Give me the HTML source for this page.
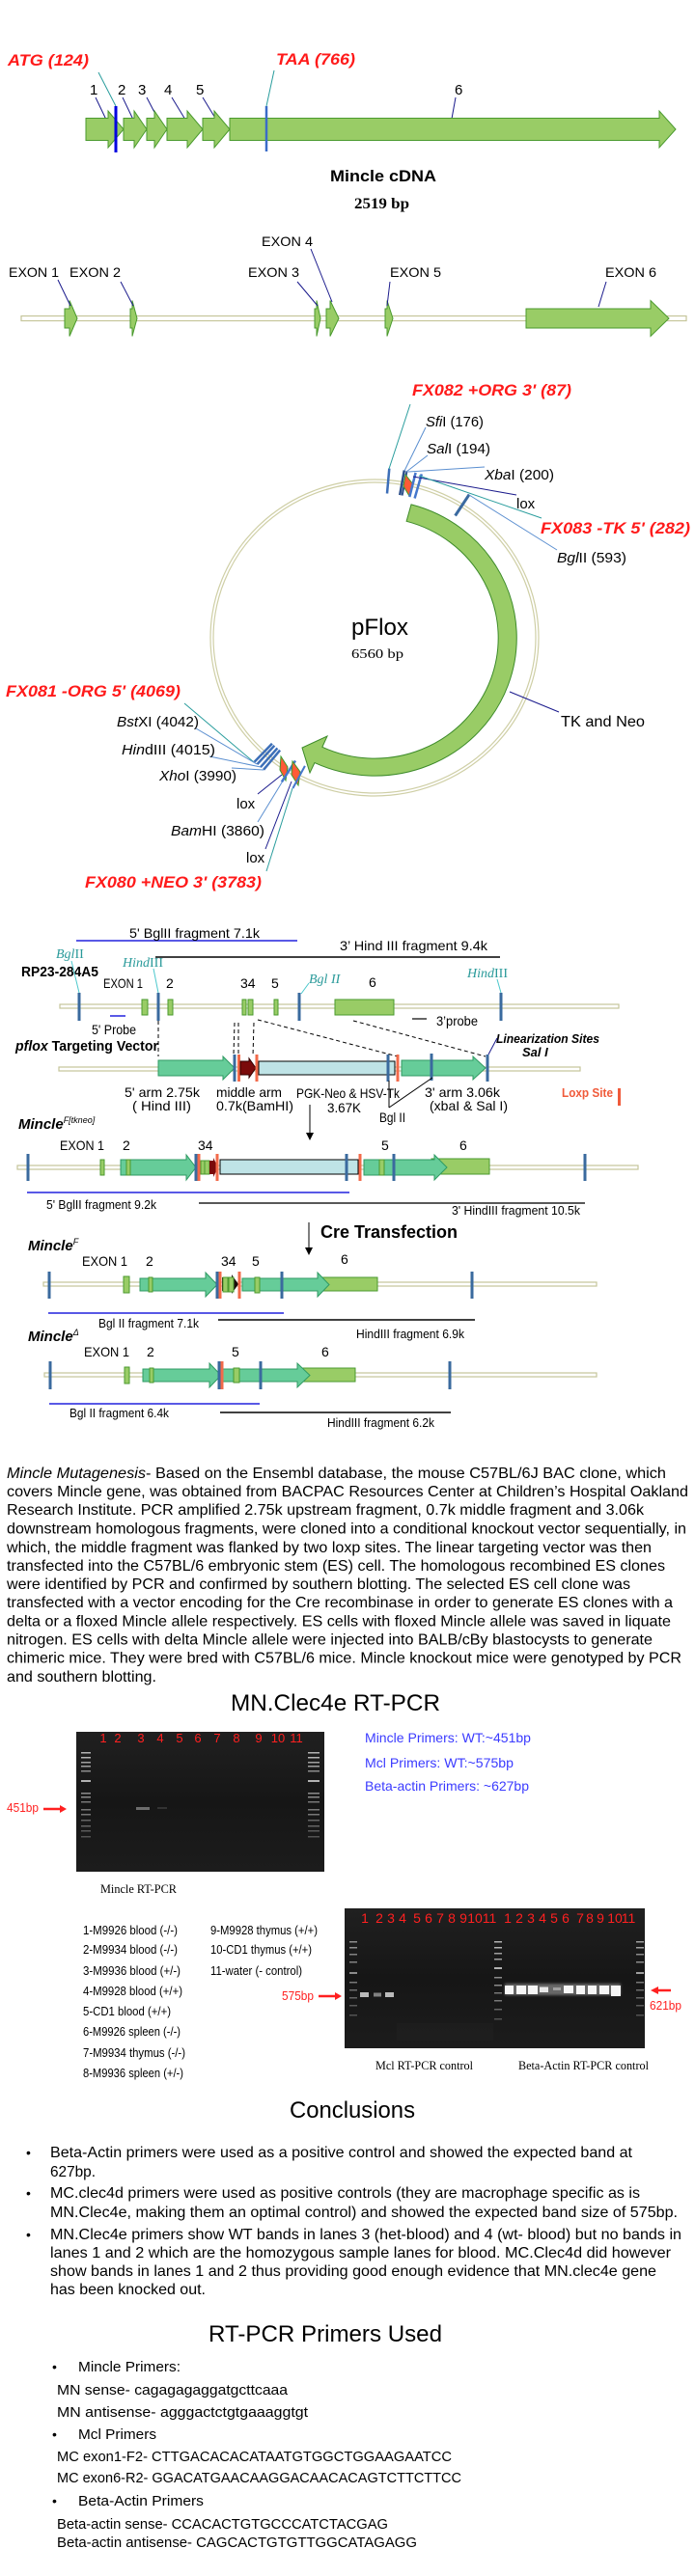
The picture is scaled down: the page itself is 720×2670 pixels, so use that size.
<!DOCTYPE html>
<html><head><meta charset="utf-8">
<style>
html,body{margin:0;padding:0;background:#fff;}
svg{display:block;}
text{font-family:"Liberation Sans",Arial,sans-serif;}
.sf{font-family:"Liberation Serif","Times New Roman",serif;}
.red{fill:#ff1a1a;font-weight:bold;font-style:italic;font-size:17px;}
.ga{fill:#99cc66;stroke:#4a9a2e;stroke-width:1;}
.ta{fill:#66cc99;stroke:#2f9a63;stroke-width:1;}
.bt{stroke:#3a6a9e;stroke-width:3;}
.rt{stroke:#f26a4a;stroke-width:3;}
.ln{fill:#fff;stroke:#c5c59a;stroke-width:1.2;}
.nv{stroke:#1a1a8c;stroke-width:1;}
.tl{stroke:#2a9d9d;stroke-width:1;}
.lb{stroke:#5b8fd0;stroke-width:1;}
.teal{fill:#2a9a9a;font-family:"Liberation Serif",serif;font-size:14px;}
</style></head><body>
<svg width="720" height="2670" viewBox="0 0 720 2670" xmlns="http://www.w3.org/2000/svg">
<rect width="720" height="2670" fill="#fff"/>

<!-- ===== Mincle cDNA ===== -->
<text x="8" y="68" class="red" textLength="84" lengthAdjust="spacingAndGlyphs">ATG (124)</text>
<text x="286" y="67" class="red" textLength="82" lengthAdjust="spacingAndGlyphs">TAA (766)</text>
<line x1="102" y1="75" x2="120" y2="110" class="tl"/>
<line x1="284" y1="73" x2="276" y2="110" class="tl"/>
<g font-size="15">
<text x="93" y="98">1</text><text x="122" y="98">2</text><text x="143" y="98">3</text>
<text x="170" y="98">4</text><text x="203" y="98">5</text><text x="471" y="98">6</text>
</g>
<line x1="99" y1="101" x2="110" y2="124" class="nv"/>
<line x1="127" y1="101" x2="138" y2="124" class="nv"/>
<line x1="152" y1="101" x2="164" y2="124" class="nv"/>
<line x1="178" y1="101" x2="192" y2="124" class="nv"/>
<line x1="210" y1="101" x2="224" y2="124" class="nv"/>
<line x1="472" y1="101" x2="468" y2="123" class="nv"/>
<polygon class="ga" points="89,122.5 112,122.5 112,115 128,134 112,153 112,145.5 89,145.5"/>
<polygon class="ga" points="128,122.5 139,122.5 139,115 152,134 139,153 139,145.5 128,145.5"/>
<polygon class="ga" points="152,122.5 160,122.5 160,115 173,134 160,153 160,145.5 152,145.5"/>
<polygon class="ga" points="173,122.5 194,122.5 194,115 210,134 194,153 194,145.5 173,145.5"/>
<polygon class="ga" points="210,122.5 222,122.5 222,115 238,134 222,153 222,145.5 210,145.5"/>
<polygon class="ga" points="238,122.5 683,122.5 683,115 700,134 683,153 683,145.5 238,145.5"/>
<line x1="120" y1="110" x2="120" y2="158" stroke="#0000e0" stroke-width="3"/>
<line x1="276" y1="110" x2="276" y2="157" stroke="#3a6cc8" stroke-width="2.5"/>
<text x="342" y="188" font-size="17" font-weight="bold" textLength="110" lengthAdjust="spacingAndGlyphs">Mincle cDNA</text>
<text x="367" y="216" class="sf" font-size="16" font-weight="bold" textLength="57" lengthAdjust="spacingAndGlyphs">2519 bp</text>

<!-- ===== Exons ===== -->
<rect x="22" y="327.5" width="689" height="5" class="ln"/>
<polygon class="ga" points="67,320 72,320 72,311.5 80,330 72,348.5 72,340 67,340"/>
<polygon class="ga" points="135,320 137,320 137,311.5 142,330 137,348.5 137,340 135,340"/>
<polygon class="ga" points="326,320 328,320 328,311.5 332,330 328,348.5 328,340 326,340"/>
<polygon class="ga" points="338,320 342,320 342,311.5 351,330 342,348.5 342,340 338,340"/>
<polygon class="ga" points="399,320 401,320 401,311.5 407,330 401,348.5 401,340 399,340"/>
<polygon class="ga" points="545,320 674,320 674,311.5 693,330 674,348.5 674,340 545,340"/>
<g font-size="14">
<text x="9" y="287" textLength="52" lengthAdjust="spacingAndGlyphs">EXON 1</text>
<text x="72" y="287" textLength="53" lengthAdjust="spacingAndGlyphs">EXON 2</text>
<text x="257" y="287" textLength="53" lengthAdjust="spacingAndGlyphs">EXON 3</text>
<text x="271" y="255" textLength="53" lengthAdjust="spacingAndGlyphs">EXON 4</text>
<text x="404" y="287" textLength="53" lengthAdjust="spacingAndGlyphs">EXON 5</text>
<text x="627" y="287" textLength="53" lengthAdjust="spacingAndGlyphs">EXON 6</text>
</g>
<line x1="60" y1="290" x2="73" y2="317" class="nv"/>
<line x1="125" y1="292" x2="138" y2="317" class="nv"/>
<line x1="308" y1="292" x2="329" y2="317" class="nv"/>
<line x1="322" y1="258" x2="344" y2="313" class="nv"/>
<line x1="404" y1="292" x2="401" y2="317" class="nv"/>
<line x1="628" y1="292" x2="620" y2="318" class="nv"/>

<!-- ===== pFlox ===== -->
<ellipse cx="388" cy="661" rx="170" ry="164" fill="none" stroke="#cfcfa6" stroke-width="1.2"/>
<ellipse cx="388" cy="661" rx="167" ry="161" fill="none" stroke="#cfcfa6" stroke-width="1.2"/>
<path d="M426,522.9 A147,143 0 1 1 325.9,790.6 L321,801 L313,775 L339,763 L333.9,774.3 A128,125 0 1 0 421.1,540.3 Z" fill="#99cc66" stroke="#3d8b2a" stroke-width="1"/>
<text x="364" y="658" font-size="24" textLength="59" lengthAdjust="spacingAndGlyphs">pFlox</text>
<text x="364" y="682" class="sf" font-size="14" textLength="54" lengthAdjust="spacingAndGlyphs">6560 bp</text>

<!-- top features -->
<line x1="403.3" y1="485.6" x2="401" y2="511.5" stroke="#3d6fb8" stroke-width="2.5"/>
<line x1="418.8" y1="487.5" x2="414.2" y2="513.1" stroke="#2c4f8a" stroke-width="2.5"/>
<line x1="421.6" y1="488" x2="416.6" y2="513.6" stroke="#2c4f8a" stroke-width="2"/>
<polygon points="420,492 428,502 424,514 418,504" fill="#ff5a36" stroke="#3a9a2a" stroke-width="1"/>
<line x1="430.6" y1="489.9" x2="424.3" y2="515.1" stroke="#4477cc" stroke-width="2.5"/>
<line x1="436.8" y1="491.4" x2="429.6" y2="516.5" stroke="#4477cc" stroke-width="2.5"/>
<line x1="486.1" y1="512.6" x2="471.6" y2="534.5" stroke="#3a6aa0" stroke-width="3"/>
<line x1="425" y1="419" x2="403" y2="486" class="tl"/>
<line x1="441" y1="443" x2="419" y2="488" class="lb"/>
<line x1="443" y1="472" x2="421" y2="489" class="lb"/>
<line x1="502" y1="484" x2="423" y2="489" class="lb"/>
<line x1="535" y1="513" x2="428" y2="494" class="nv"/>
<line x1="561" y1="537" x2="434" y2="493" class="tl"/>
<line x1="577" y1="570" x2="486" y2="513" class="lb"/>
<text x="427" y="410" class="red" textLength="165" lengthAdjust="spacingAndGlyphs">FX082 +ORG 3' (87)</text>
<g class="sf" font-size="15">
<text x="441" y="442" textLength="60" lengthAdjust="spacingAndGlyphs"><tspan font-style="italic">Sfi</tspan>I (176)</text>
<text x="442" y="470" textLength="66" lengthAdjust="spacingAndGlyphs"><tspan font-style="italic">Sal</tspan>I (194)</text>
<text x="502" y="497" textLength="72" lengthAdjust="spacingAndGlyphs"><tspan font-style="italic">Xba</tspan>I (200)</text>
<text x="577" y="583" textLength="72" lengthAdjust="spacingAndGlyphs"><tspan font-style="italic">Bgl</tspan>II (593)</text>
</g>
<text x="535" y="527" font-size="15">lox</text>
<text x="560" y="553" class="red" textLength="155" lengthAdjust="spacingAndGlyphs">FX083 -TK 5' (282)</text>

<!-- bottom features -->
<line x1="263.5" y1="789.7" x2="281.9" y2="770.7" stroke="#3d6fb8" stroke-width="2.5"/>
<line x1="266.4" y1="792.2" x2="284.3" y2="772.8" stroke="#3d6fb8" stroke-width="2.5"/>
<line x1="269.9" y1="795.2" x2="287.4" y2="775.4" stroke="#3d6fb8" stroke-width="2.5"/>
<line x1="273.1" y1="797.8" x2="290.1" y2="777.6" stroke="#3d6fb8" stroke-width="2.5"/>
<polygon points="291,784 298,795 296,809 290,798" fill="#ff5a36" stroke="#3a9a2a" stroke-width="1"/>
<line x1="291.8" y1="810.6" x2="306" y2="788.5" stroke="#4477cc" stroke-width="2.5"/>
<polygon points="303,789 311,800 309,814 302,803" fill="#ff5a36" stroke="#3a9a2a" stroke-width="1"/>
<line x1="303.4" y1="817" x2="315.9" y2="793.9" stroke="#4477cc" stroke-width="2"/>
<line x1="191" y1="729" x2="263" y2="790" class="tl"/>
<line x1="203" y1="755" x2="266" y2="792" class="lb"/>
<line x1="217" y1="784" x2="270" y2="795" class="lb"/>
<line x1="240" y1="796" x2="273" y2="798" class="lb"/>
<line x1="267" y1="823" x2="292" y2="803" class="nv"/>
<line x1="267" y1="852" x2="292" y2="811" class="lb"/>
<line x1="275" y1="880" x2="302" y2="810" class="nv"/>
<line x1="276" y1="903" x2="303" y2="817" class="tl"/>
<line x1="579" y1="738" x2="528" y2="717" class="nv"/>
<text x="6" y="722" class="red" textLength="181" lengthAdjust="spacingAndGlyphs">FX081 -ORG 5' (4069)</text>
<g class="sf" font-size="15">
<text x="121" y="753" textLength="85" lengthAdjust="spacingAndGlyphs"><tspan font-style="italic">Bst</tspan>XI (4042)</text>
<text x="126" y="782" textLength="97" lengthAdjust="spacingAndGlyphs"><tspan font-style="italic">Hin</tspan>dIII (4015)</text>
<text x="165" y="809" textLength="80" lengthAdjust="spacingAndGlyphs"><tspan font-style="italic">Xho</tspan>I (3990)</text>
<text x="177" y="866" textLength="97" lengthAdjust="spacingAndGlyphs"><tspan font-style="italic">Bam</tspan>HI (3860)</text>
</g>
<text x="245" y="838" font-size="15">lox</text>
<text x="255" y="894" font-size="15">lox</text>
<text x="88" y="920" class="red" textLength="183" lengthAdjust="spacingAndGlyphs">FX080 +NEO 3' (3783)</text>
<text x="581" y="753" font-size="16" textLength="87" lengthAdjust="spacingAndGlyphs">TK and Neo</text>

<!-- ===== Targeting ===== -->
<line x1="79" y1="975" x2="308" y2="975" stroke="#2222dd" stroke-width="1.5"/>
<text x="134" y="972" font-size="14" textLength="135" lengthAdjust="spacingAndGlyphs">5' BglII fragment 7.1k</text>
<text x="352" y="985" font-size="14" textLength="153" lengthAdjust="spacingAndGlyphs">3’ Hind III fragment 9.4k</text>
<line x1="161" y1="992" x2="518" y2="992" stroke="#000" stroke-width="1.5"/>
<text x="22" y="1012" font-size="15" font-weight="bold" textLength="80" lengthAdjust="spacingAndGlyphs">RP23-284A5</text>
<text x="58" y="993" class="teal"><tspan font-style="italic">Bgl</tspan>II</text>
<text x="127" y="1002" class="teal"><tspan font-style="italic">Hind</tspan>III</text>
<text x="320" y="1019" class="teal" font-style="italic">Bgl II</text>
<text x="484" y="1013" class="teal"><tspan font-style="italic">Hind</tspan>III</text>
<line x1="74" y1="996" x2="82" y2="1029" stroke="#4cc8cc" stroke-width="1"/>
<line x1="159" y1="1004" x2="164" y2="1029" stroke="#4cc8cc" stroke-width="1"/>
<line x1="320" y1="1019" x2="312" y2="1030" stroke="#4cc8cc" stroke-width="1"/>
<line x1="515" y1="1015" x2="519" y2="1029" stroke="#4cc8cc" stroke-width="1"/>
<g font-size="14">
<text x="107" y="1024" textLength="41" lengthAdjust="spacingAndGlyphs">EXON 1</text>
<text x="172" y="1024">2</text><text x="249" y="1024">34</text><text x="281" y="1024">5</text><text x="382" y="1023">6</text>
</g>
<rect x="62" y="1041" width="579" height="4" class="ln"/>
<line x1="82" y1="1029" x2="82" y2="1058" class="bt"/>
<line x1="164" y1="1029" x2="164" y2="1058" class="bt"/>
<line x1="310" y1="1029" x2="310" y2="1058" class="bt"/>
<line x1="519" y1="1029" x2="519" y2="1058" class="bt"/>
<rect x="147" y="1036" width="6" height="16" class="ga"/>
<rect x="174" y="1036" width="5" height="16" class="ga"/>
<rect x="251" y="1036" width="4" height="16" class="ga"/>
<rect x="257" y="1036" width="5" height="16" class="ga"/>
<rect x="284" y="1036" width="4" height="16" class="ga"/>
<rect x="347" y="1036" width="61" height="16" class="ga"/>
<line x1="114" y1="1053" x2="130" y2="1053" stroke="#2222dd" stroke-width="1.5"/>
<text x="95" y="1072" font-size="14" textLength="46" lengthAdjust="spacingAndGlyphs">5' Probe</text>
<line x1="427" y1="1056" x2="442" y2="1056" stroke="#000" stroke-width="1.2"/>
<text x="452" y="1063" font-size="14" textLength="43" lengthAdjust="spacingAndGlyphs">3’probe</text>
<text x="16" y="1089" font-size="15" font-weight="bold" textLength="148" lengthAdjust="spacingAndGlyphs"><tspan font-style="italic">pflox</tspan> Targeting Vector</text>
<g stroke="#000" stroke-width="1" stroke-dasharray="4,3">
<line x1="164" y1="1058" x2="164" y2="1095"/>
<line x1="243" y1="1060" x2="242" y2="1093"/>
<line x1="247" y1="1060" x2="247" y2="1093"/>
<line x1="263" y1="1060" x2="262" y2="1095"/>
<line x1="267" y1="1057" x2="412" y2="1095"/>
<line x1="366" y1="1058" x2="503" y2="1095"/>
</g>
<text x="514" y="1081" font-size="13" font-weight="bold" font-style="italic" textLength="107" lengthAdjust="spacingAndGlyphs">Linearization Sites</text>
<text x="541" y="1095" font-size="13" font-weight="bold" font-style="italic">Sal I</text>
<line x1="515" y1="1076" x2="506" y2="1093" class="nv"/>
<!-- vector row -->
<rect x="61" y="1106" width="540" height="4" class="ln"/>
<polygon class="ta" points="164,1099 231,1099 231,1095 243,1107 231,1119 231,1115 164,1115"/>
<line x1="243" y1="1093" x2="243" y2="1121" class="bt"/>
<line x1="247.5" y1="1093" x2="247.5" y2="1121" class="rt"/>
<polygon points="249,1100 258,1100 258,1097 265,1107 258,1117 258,1114 249,1114" fill="#7a0a0a" stroke="#300" stroke-width="1"/>
<line x1="266" y1="1093" x2="266" y2="1121" class="rt"/>
<rect x="268" y="1100" width="141" height="14" fill="#bfe3e6" stroke="#000" stroke-width="1"/>
<line x1="402" y1="1093" x2="402" y2="1121" class="bt"/>
<line x1="412" y1="1093" x2="412" y2="1121" class="rt"/>
<polygon class="ta" points="416,1099 490,1099 490,1095 503,1107 490,1119 490,1115 416,1115"/>
<line x1="447" y1="1092" x2="447" y2="1120" class="bt"/>
<line x1="505" y1="1093" x2="505" y2="1121" class="bt"/>
<g font-size="14">
<text x="129" y="1137" textLength="78" lengthAdjust="spacingAndGlyphs">5' arm 2.75k</text>
<text x="137" y="1151" textLength="61" lengthAdjust="spacingAndGlyphs">( Hind III)</text>
<text x="224" y="1137" textLength="68" lengthAdjust="spacingAndGlyphs">middle arm</text>
<text x="224" y="1151" textLength="80" lengthAdjust="spacingAndGlyphs">0.7k(BamHI)</text>
<text x="307" y="1138" textLength="107" lengthAdjust="spacingAndGlyphs">PGK-Neo &amp; HSV-Tk</text>
<text x="339" y="1153" textLength="35" lengthAdjust="spacingAndGlyphs">3.67K</text>
<text x="393" y="1163" textLength="27" lengthAdjust="spacingAndGlyphs">Bgl II</text>
<text x="440" y="1137" textLength="78" lengthAdjust="spacingAndGlyphs">3' arm 3.06k</text>
<text x="445" y="1151" textLength="81" lengthAdjust="spacingAndGlyphs">(xbaI &amp; Sal I)</text>
</g>
<text x="582" y="1137" font-size="13" font-weight="bold" fill="#f05a3a" textLength="53" lengthAdjust="spacingAndGlyphs">Loxp Site</text>
<rect x="640" y="1128" width="3" height="18" fill="#f05a3a"/>
<line x1="403" y1="1120" x2="403" y2="1148" stroke="#000" stroke-width="1"/>
<line x1="403" y1="1148" x2="448" y2="1117" stroke="#000" stroke-width="1"/>
<line x1="321" y1="1145" x2="321" y2="1176" stroke="#000" stroke-width="1"/>
<polygon points="317,1174 325,1174 321,1182" fill="#000"/>
<text x="19" y="1170" font-size="15" font-weight="bold" font-style="italic">Mincle<tspan font-size="9" font-weight="normal" dy="-6">F[tkneo]</tspan></text>

<!-- row 3 Mincle F[tkneo] -->
<g font-size="14">
<text x="62" y="1192" textLength="46" lengthAdjust="spacingAndGlyphs">EXON 1</text>
<text x="127" y="1192">2</text><text x="205" y="1192">34</text><text x="395" y="1192">5</text><text x="476" y="1192">6</text>
</g>
<rect x="18" y="1208" width="643" height="4" class="ln"/>
<rect x="104" y="1202" width="4" height="16" class="ga"/>
<polygon class="ta" points="125,1202 193,1202 193,1197 203,1210 193,1223 193,1218 125,1218"/>
<rect x="131" y="1202" width="4" height="16" class="ga"/>
<rect x="208" y="1203" width="4" height="14" class="ga"/>
<rect x="212" y="1203" width="5" height="14" class="ga"/>
<polygon points="217,1203 221,1203 221,1200 226,1210 221,1220 221,1217 217,1217" fill="#7a0a0a"/>
<rect x="228" y="1202" width="143" height="15" fill="#bfe3e6" stroke="#000" stroke-width="1"/>
<rect x="447" y="1201" width="60" height="16" class="ga"/>
<polygon class="ta" points="377,1202 450,1202 450,1197 463,1210 450,1223 450,1218 377,1218"/>
<rect x="393" y="1202" width="5" height="16" class="ga"/>
<line x1="29" y1="1196" x2="29" y2="1224" class="bt"/>
<line x1="203" y1="1196" x2="203" y2="1224" class="bt"/>
<line x1="206" y1="1196" x2="206" y2="1224" class="rt"/>
<line x1="225" y1="1196" x2="225" y2="1224" class="rt"/>
<line x1="359" y1="1196" x2="359" y2="1224" class="bt"/>
<line x1="373" y1="1196" x2="373" y2="1224" class="rt"/>
<line x1="408" y1="1196" x2="408" y2="1224" class="bt"/>
<line x1="606" y1="1196" x2="606" y2="1224" class="bt"/>
<line x1="28" y1="1236" x2="362" y2="1236" stroke="#2222dd" stroke-width="1.5"/>
<text x="48" y="1253" font-size="13" textLength="114" lengthAdjust="spacingAndGlyphs">5' BglII fragment 9.2k</text>
<line x1="206" y1="1247" x2="606" y2="1247" stroke="#222" stroke-width="1.5"/>
<text x="468" y="1259" font-size="13" textLength="133" lengthAdjust="spacingAndGlyphs">3' HindIII fragment 10.5k</text>
<line x1="320" y1="1267" x2="320" y2="1294" stroke="#000" stroke-width="1"/>
<polygon points="316,1293 324,1293 320,1301" fill="#000"/>
<text x="332" y="1283" font-size="18" font-weight="bold" textLength="142" lengthAdjust="spacingAndGlyphs">Cre Transfection</text>
<text x="29" y="1296" font-size="15" font-weight="bold" font-style="italic">Mincle<tspan font-size="9" font-weight="normal" dy="-6">F</tspan></text>

<!-- row 4 Mincle F -->
<g font-size="14">
<text x="85" y="1312" textLength="47" lengthAdjust="spacingAndGlyphs">EXON 1</text>
<text x="151" y="1312">2</text><text x="229" y="1312">34</text><text x="261" y="1312">5</text><text x="353" y="1310">6</text>
</g>
<rect x="45" y="1329" width="573" height="4" class="ln"/>
<rect x="128" y="1323" width="6" height="17" class="ga"/>
<polygon class="ta" points="145,1325 213,1325 213,1319 225,1331.5 213,1344 213,1338 145,1338"/>
<rect x="154" y="1324" width="4" height="15" class="ga"/>
<polygon points="230,1324 240,1324 240,1321 247,1331 240,1341 240,1338 230,1338" fill="#1a0a0a"/>
<rect x="231" y="1324" width="5" height="15" class="ga"/>
<rect x="237" y="1324" width="5" height="15" class="ga"/>
<rect x="329" y="1324" width="62" height="14" class="ga"/>
<polygon class="ta" points="251,1325 329,1325 329,1319 341,1331.5 329,1344 329,1338 251,1338"/>
<rect x="264" y="1324" width="5" height="16" class="ga"/>
<line x1="51" y1="1318" x2="51" y2="1346" class="bt"/>
<line x1="225" y1="1318" x2="225" y2="1346" class="bt"/>
<line x1="228" y1="1318" x2="228" y2="1346" class="rt"/>
<line x1="248" y1="1318" x2="248" y2="1346" class="rt"/>
<line x1="292" y1="1318" x2="292" y2="1346" class="bt"/>
<line x1="489" y1="1318" x2="489" y2="1346" class="bt"/>
<line x1="50" y1="1361" x2="294" y2="1361" stroke="#2222dd" stroke-width="1.5"/>
<text x="102" y="1376" font-size="13" textLength="104" lengthAdjust="spacingAndGlyphs">Bgl II fragment 7.1k</text>
<line x1="226" y1="1368" x2="492" y2="1368" stroke="#000" stroke-width="1.5"/>
<text x="369" y="1387" font-size="13" textLength="112" lengthAdjust="spacingAndGlyphs">HindIII fragment 6.9k</text>
<text x="29" y="1390" font-size="15" font-weight="bold" font-style="italic">Mincle<tspan font-size="9" font-weight="normal" dy="-6">Δ</tspan></text>

<!-- row 5 Mincle delta -->
<g font-size="14">
<text x="87" y="1406" textLength="47" lengthAdjust="spacingAndGlyphs">EXON 1</text>
<text x="152" y="1406">2</text><text x="240" y="1406">5</text><text x="333" y="1406">6</text>
</g>
<rect x="46" y="1423" width="572" height="4" class="ln"/>
<rect x="129" y="1417" width="5" height="17" class="ga"/>
<polygon class="ta" points="148,1419 217,1419 217,1413 229,1425.5 217,1438 217,1432 148,1432"/>
<rect x="155" y="1418" width="4" height="15" class="ga"/>
<rect x="308" y="1418" width="60" height="14" class="ga"/>
<polygon class="ta" points="231,1419 308,1419 308,1413 321,1425.5 308,1438 308,1432 231,1432"/>
<rect x="242" y="1418" width="6" height="15" class="ga"/>
<line x1="52" y1="1411" x2="52" y2="1440" class="bt"/>
<line x1="227" y1="1411" x2="227" y2="1440" class="bt"/>
<line x1="230" y1="1411" x2="230" y2="1440" class="rt"/>
<line x1="270" y1="1411" x2="270" y2="1440" class="bt"/>
<line x1="466" y1="1411" x2="466" y2="1440" class="bt"/>
<line x1="51" y1="1455" x2="269" y2="1455" stroke="#2222dd" stroke-width="1.5"/>
<text x="72" y="1469" font-size="13" textLength="103" lengthAdjust="spacingAndGlyphs">Bgl II fragment 6.4k</text>
<line x1="228" y1="1464" x2="467" y2="1464" stroke="#000" stroke-width="1.5"/>
<text x="339" y="1479" font-size="13" textLength="111" lengthAdjust="spacingAndGlyphs">HindIII fragment 6.2k</text>

<!-- ===== Paragraph ===== -->
<g font-size="16">
<text x="7" y="1532" textLength="683" lengthAdjust="spacingAndGlyphs"><tspan font-style="italic">Mincle Mutagenesis</tspan>- Based on  the Ensembl database, the  mouse C57BL/6J BAC clone, which</text>
<text x="7" y="1551" textLength="706" lengthAdjust="spacingAndGlyphs">covers Mincle gene, was obtained from BACPAC Resources Center at Children’s Hospital Oakland</text>
<text x="7" y="1570" textLength="660" lengthAdjust="spacingAndGlyphs">Research Institute. PCR amplified 2.75k upstream fragment, 0.7k middle fragment and 3.06k</text>
<text x="7" y="1589.5" textLength="704" lengthAdjust="spacingAndGlyphs">downstream homologous fragments, were cloned into a conditional knockout vector sequentially, in</text>
<text x="7" y="1609" textLength="668" lengthAdjust="spacingAndGlyphs">which, the middle fragment was flanked by two loxp sites. The linear targeting vector was then</text>
<text x="7" y="1628" textLength="682" lengthAdjust="spacingAndGlyphs">transfected into the C57BL/6 embryonic stem (ES) cell. The homologous recombined ES clones</text>
<text x="7" y="1647" textLength="646" lengthAdjust="spacingAndGlyphs">were identified by PCR and confirmed by southern blotting. The selected ES cell clone was</text>
<text x="7" y="1666" textLength="690" lengthAdjust="spacingAndGlyphs">transfected with a vector encoding for the Cre recombinase in order to generate ES clones with a</text>
<text x="7" y="1685.5" textLength="688" lengthAdjust="spacingAndGlyphs">delta or a floxed Mincle allele respectively. ES cells with floxed Mincle allele was saved in liquate</text>
<text x="7" y="1704.5" textLength="669" lengthAdjust="spacingAndGlyphs">nitrogen. ES cells with delta Mincle allele were injected into BALB/cBy blastocysts to generate</text>
<text x="7" y="1723.5" textLength="699" lengthAdjust="spacingAndGlyphs">chimeric mice. They were bred with C57BL/6 mice. Mincle knockout mice were genotyped by PCR</text>
<text x="7" y="1743" textLength="155" lengthAdjust="spacingAndGlyphs">and southern blotting.</text>
</g>

<!-- ===== RT-PCR ===== -->
<text x="239" y="1773" font-size="24" textLength="217" lengthAdjust="spacingAndGlyphs">MN.Clec4e RT-PCR</text>
<defs>
<linearGradient id="gel" x1="0" y1="0" x2="0" y2="1">
<stop offset="0" stop-color="#202020"/><stop offset="0.5" stop-color="#161616"/><stop offset="1" stop-color="#1c1c1c"/>
</linearGradient>
<filter id="glow" x="-30%" y="-60%" width="160%" height="220%"><feGaussianBlur stdDeviation="1.2"/></filter>
</defs>
<rect x="79" y="1795" width="257" height="145" fill="url(#gel)"/>
<g fill="#d8d8d8">
<rect x="84" y="1816" width="10" height="1.5" opacity=".8"/><rect x="84" y="1821" width="10" height="1.5" opacity=".8"/>
<rect x="84" y="1826" width="10" height="1.5" opacity=".7"/><rect x="84" y="1830" width="10" height="1.5" opacity=".7"/>
<rect x="84" y="1835" width="10" height="1.5" opacity=".6"/><rect x="84" y="1845" width="10" height="2" opacity=".8"/>
<rect x="84" y="1858" width="10" height="1.5" opacity=".6"/><rect x="84" y="1862" width="10" height="1.5" opacity=".6"/>
<rect x="84" y="1867" width="10" height="1.5" opacity=".5"/><rect x="84" y="1875" width="10" height="1.5" opacity=".5"/>
<rect x="84" y="1880" width="10" height="1.5" opacity=".5"/><rect x="84" y="1886" width="10" height="1.5" opacity=".4"/>
<rect x="84" y="1892" width="10" height="1.5" opacity=".4"/><rect x="84" y="1897" width="10" height="1.5" opacity=".35"/>
<rect x="84" y="1903" width="10" height="1.5" opacity=".3"/>
<rect x="319" y="1816" width="12" height="1.5" opacity=".8"/><rect x="319" y="1821" width="12" height="1.5" opacity=".8"/>
<rect x="319" y="1826" width="12" height="1.5" opacity=".7"/><rect x="319" y="1830" width="12" height="1.5" opacity=".7"/>
<rect x="319" y="1835" width="12" height="1.5" opacity=".6"/><rect x="319" y="1845" width="12" height="2" opacity=".8"/>
<rect x="319" y="1858" width="12" height="1.5" opacity=".6"/><rect x="319" y="1862" width="12" height="1.5" opacity=".6"/>
<rect x="319" y="1867" width="12" height="1.5" opacity=".5"/><rect x="319" y="1875" width="12" height="1.5" opacity=".5"/>
<rect x="319" y="1880" width="12" height="1.5" opacity=".5"/><rect x="319" y="1886" width="12" height="1.5" opacity=".4"/>
<rect x="319" y="1892" width="12" height="1.5" opacity=".4"/><rect x="319" y="1897" width="12" height="1.5" opacity=".35"/>
<rect x="319" y="1903" width="12" height="1.5" opacity=".3"/>
<rect x="141" y="1873" width="14" height="3" opacity=".45"/>
<rect x="163" y="1873" width="10" height="2" opacity=".15"/>
</g>
<g fill="#ff2020" font-size="13" text-anchor="middle">
<text x="107" y="1806">1</text><text x="122" y="1806">2</text><text x="146" y="1806">3</text><text x="166" y="1806">4</text>
<text x="186" y="1806">5</text><text x="205" y="1806">6</text><text x="225" y="1806">7</text><text x="245" y="1806">8</text>
<text x="268" y="1806">9</text><text x="288" y="1806">10</text><text x="307" y="1806">11</text>
</g>
<text x="7" y="1878" font-size="13" fill="#ff2020" textLength="33" lengthAdjust="spacingAndGlyphs">451bp</text>
<line x1="45" y1="1875" x2="63" y2="1875" stroke="#ff2020" stroke-width="2.5"/>
<polygon points="62,1871 69,1875 62,1879" fill="#ff2020"/>
<g font-size="14" fill="#3b3bff">
<text x="378" y="1806" textLength="172" lengthAdjust="spacingAndGlyphs">Mincle Primers: WT:~451bp</text>
<text x="378" y="1832" textLength="154" lengthAdjust="spacingAndGlyphs">Mcl Primers: WT:~575bp</text>
<text x="378" y="1856" textLength="170" lengthAdjust="spacingAndGlyphs">Beta-actin Primers: ~627bp</text>
</g>
<text x="104" y="1962" class="sf" font-size="13" textLength="79" lengthAdjust="spacingAndGlyphs">Mincle RT-PCR</text>
<g class="sf" font-size="13">
<text x="86" y="2005" textLength="98" lengthAdjust="spacingAndGlyphs">1-M9926 blood (-/-)</text>
<text x="86" y="2025" textLength="98" lengthAdjust="spacingAndGlyphs">2-M9934 blood (-/-)</text>
<text x="86" y="2047" textLength="101" lengthAdjust="spacingAndGlyphs">3-M9936 blood (+/-)</text>
<text x="86" y="2068" textLength="103" lengthAdjust="spacingAndGlyphs">4-M9928 blood (+/+)</text>
<text x="86" y="2089" textLength="91" lengthAdjust="spacingAndGlyphs">5-CD1 blood (+/+)</text>
<text x="86" y="2110" textLength="101" lengthAdjust="spacingAndGlyphs">6-M9926 spleen (-/-)</text>
<text x="86" y="2132" textLength="106" lengthAdjust="spacingAndGlyphs">7-M9934 thymus (-/-)</text>
<text x="86" y="2153" textLength="104" lengthAdjust="spacingAndGlyphs">8-M9936 spleen (+/-)</text>
<text x="218" y="2005" textLength="111" lengthAdjust="spacingAndGlyphs">9-M9928 thymus (+/+)</text>
<text x="218" y="2025" textLength="105" lengthAdjust="spacingAndGlyphs">10-CD1 thymus (+/+)</text>
<text x="218" y="2047" textLength="95" lengthAdjust="spacingAndGlyphs">11-water (- control)</text>
</g>
<rect x="357" y="1978" width="311" height="145" fill="url(#gel)"/>
<g fill="#262626" opacity=".35">
<rect x="411" y="2097" width="100" height="18"/>
</g>
<g fill="#d8d8d8">
<rect x="362" y="2012" width="8" height="1.5" opacity=".6"/><rect x="362" y="2018" width="8" height="1.5" opacity=".6"/>
<rect x="362" y="2025" width="8" height="1.5" opacity=".55"/><rect x="362" y="2033" width="8" height="1.5" opacity=".55"/>
<rect x="362" y="2044" width="8" height="2" opacity=".6"/><rect x="362" y="2054" width="8" height="1.5" opacity=".5"/>
<rect x="362" y="2062" width="8" height="1.5" opacity=".45"/><rect x="362" y="2070" width="8" height="1.5" opacity=".4"/>
<rect x="362" y="2078" width="8" height="1.5" opacity=".35"/><rect x="362" y="2088" width="8" height="1.5" opacity=".3"/>
<rect x="512" y="2012" width="8" height="1.5" opacity=".8"/><rect x="512" y="2018" width="8" height="1.5" opacity=".8"/>
<rect x="512" y="2024" width="8" height="1.5" opacity=".7"/><rect x="512" y="2030" width="8" height="1.5" opacity=".7"/>
<rect x="512" y="2039" width="8" height="2" opacity=".8"/><rect x="512" y="2049" width="8" height="1.5" opacity=".6"/>
<rect x="512" y="2057" width="8" height="1.5" opacity=".6"/><rect x="512" y="2065" width="8" height="1.5" opacity=".5"/>
<rect x="512" y="2073" width="8" height="1.5" opacity=".5"/><rect x="512" y="2082" width="8" height="1.5" opacity=".4"/>
<rect x="512" y="2092" width="8" height="1.5" opacity=".3"/>
<rect x="659" y="2012" width="8" height="1.5" opacity=".7"/><rect x="659" y="2018" width="8" height="1.5" opacity=".7"/>
<rect x="659" y="2025" width="8" height="1.5" opacity=".6"/><rect x="659" y="2033" width="8" height="1.5" opacity=".6"/>
<rect x="659" y="2044" width="8" height="2" opacity=".7"/><rect x="659" y="2054" width="8" height="1.5" opacity=".5"/>
<rect x="659" y="2062" width="8" height="1.5" opacity=".45"/><rect x="659" y="2070" width="8" height="1.5" opacity=".4"/>
<rect x="659" y="2078" width="8" height="1.5" opacity=".35"/><rect x="659" y="2088" width="8" height="1.5" opacity=".3"/>
<rect x="373" y="2065" width="9" height="5" opacity=".85"/>
<rect x="387" y="2065.5" width="8" height="4" opacity=".55"/>
<rect x="399" y="2065" width="9" height="5" opacity=".85"/>
</g>
<g fill="#ffffff" opacity=".35" filter="url(#glow)">
<rect x="523" y="2056" width="120" height="12"/>
</g>
<g fill="#f6f6f6">
<rect x="523" y="2058" width="9" height="9"/><rect x="535" y="2058" width="10" height="9"/>
<rect x="547" y="2058" width="10" height="9"/><rect x="559" y="2059.5" width="9" height="5.5" opacity=".9"/>
<rect x="573" y="2060" width="8" height="3" opacity=".4"/><rect x="584" y="2058" width="10" height="8"/>
<rect x="597" y="2058" width="9" height="9"/><rect x="609" y="2058" width="9" height="9"/>
<rect x="621" y="2058" width="10" height="9"/><rect x="633" y="2058" width="10" height="11"/>
</g>
<g fill="#ff2020" font-size="14" text-anchor="middle" class="sf">
<text x="378" y="1993">1</text><text x="393" y="1993">2</text><text x="405" y="1993">3</text><text x="417" y="1993">4</text>
<text x="432" y="1993">5</text><text x="444" y="1993">6</text><text x="456" y="1993">7</text><text x="468" y="1993">8</text>
<text x="480" y="1993">9</text><text x="492" y="1993">10</text><text x="507" y="1993">11</text>
<text x="526" y="1993">1</text><text x="538" y="1993">2</text><text x="550" y="1993">3</text><text x="562" y="1993">4</text>
<text x="574" y="1993">5</text><text x="586" y="1993">6</text><text x="601" y="1993">7</text><text x="611" y="1993">8</text>
<text x="622" y="1993">9</text><text x="637" y="1993">10</text><text x="651" y="1993">11</text>
</g>
<text x="292" y="2073" font-size="13" fill="#ff2020" textLength="33" lengthAdjust="spacingAndGlyphs">575bp</text>
<line x1="330" y1="2069" x2="348" y2="2069" stroke="#ff2020" stroke-width="2.5"/>
<polygon points="347,2065 354,2069 347,2073" fill="#ff2020"/>
<line x1="695" y1="2063" x2="681" y2="2063" stroke="#ff2020" stroke-width="2.5"/>
<polygon points="682,2059 674,2063 682,2067" fill="#ff2020"/>
<text x="673" y="2083" font-size="13" fill="#ff2020" textLength="33" lengthAdjust="spacingAndGlyphs">621bp</text>
<text x="389" y="2145" class="sf" font-size="13" textLength="101" lengthAdjust="spacingAndGlyphs">Mcl RT-PCR control</text>
<text x="537" y="2145" class="sf" font-size="13" textLength="135" lengthAdjust="spacingAndGlyphs">Beta-Actin RT-PCR control</text>

<!-- ===== Conclusions ===== -->
<text x="300" y="2195" font-size="24" textLength="130" lengthAdjust="spacingAndGlyphs">Conclusions</text>
<g font-size="14"><text x="27" y="2236">•</text><text x="27" y="2278">•</text><text x="27" y="2321">•</text></g>
<g font-size="16">
<text x="52" y="2236" textLength="603" lengthAdjust="spacingAndGlyphs">Beta-Actin primers were used as a positive control and showed the expected band at</text>
<text x="52" y="2256" textLength="47" lengthAdjust="spacingAndGlyphs">627bp.</text>
<text x="52" y="2278" textLength="611" lengthAdjust="spacingAndGlyphs">MC.clec4d primers were used as positive controls (they are macrophage specific as is</text>
<text x="52" y="2298" textLength="650" lengthAdjust="spacingAndGlyphs">MN.Clec4e, making them an optimal control) and showed the expected band size of 575bp.</text>
<text x="52" y="2321" textLength="654" lengthAdjust="spacingAndGlyphs">MN.Clec4e primers show WT bands in lanes 3 (het-blood) and 4 (wt- blood) but no bands in</text>
<text x="52" y="2340" textLength="643" lengthAdjust="spacingAndGlyphs">lanes 1 and 2 which are the homozygous sample lanes for blood.  MC.Clec4d did however</text>
<text x="52" y="2359" textLength="628" lengthAdjust="spacingAndGlyphs">show bands in lanes 1 and 2 thus providing good enough evidence that MN.clec4e gene</text>
<text x="52" y="2378" textLength="161" lengthAdjust="spacingAndGlyphs">has been knocked out.</text>
</g>

<!-- ===== Primers ===== -->
<text x="216" y="2427" font-size="24" textLength="242" lengthAdjust="spacingAndGlyphs">RT-PCR Primers Used</text>
<g font-size="14"><text x="54" y="2458">•</text><text x="54" y="2528">•</text><text x="54" y="2597">•</text></g>
<g font-size="15">
<text x="81" y="2458" textLength="106" lengthAdjust="spacingAndGlyphs">Mincle Primers:</text>
<text x="59" y="2482" textLength="239" lengthAdjust="spacingAndGlyphs">MN sense- cagagagaggatgcttcaaa</text>
<text x="59" y="2505" textLength="260" lengthAdjust="spacingAndGlyphs">MN antisense- agggactctgtgaaaggtgt</text>
<text x="81" y="2528" textLength="81" lengthAdjust="spacingAndGlyphs">Mcl Primers</text>
<text x="59" y="2551" textLength="409" lengthAdjust="spacingAndGlyphs">MC exon1-F2- CTTGACACACATAATGTGGCTGGAAGAATCC</text>
<text x="59" y="2573" textLength="419" lengthAdjust="spacingAndGlyphs">MC exon6-R2- GGACATGAACAAGGACAACACAGTCTTCTTCC</text>
<text x="81" y="2597" textLength="130" lengthAdjust="spacingAndGlyphs">Beta-Actin Primers</text>
<text x="59" y="2621" textLength="343" lengthAdjust="spacingAndGlyphs">Beta-actin sense- CCACACTGTGCCCATCTACGAG</text>
<text x="59" y="2640" textLength="373" lengthAdjust="spacingAndGlyphs">Beta-actin antisense- CAGCACTGTGTTGGCATAGAGG</text>
</g>
</svg>
</body></html>
